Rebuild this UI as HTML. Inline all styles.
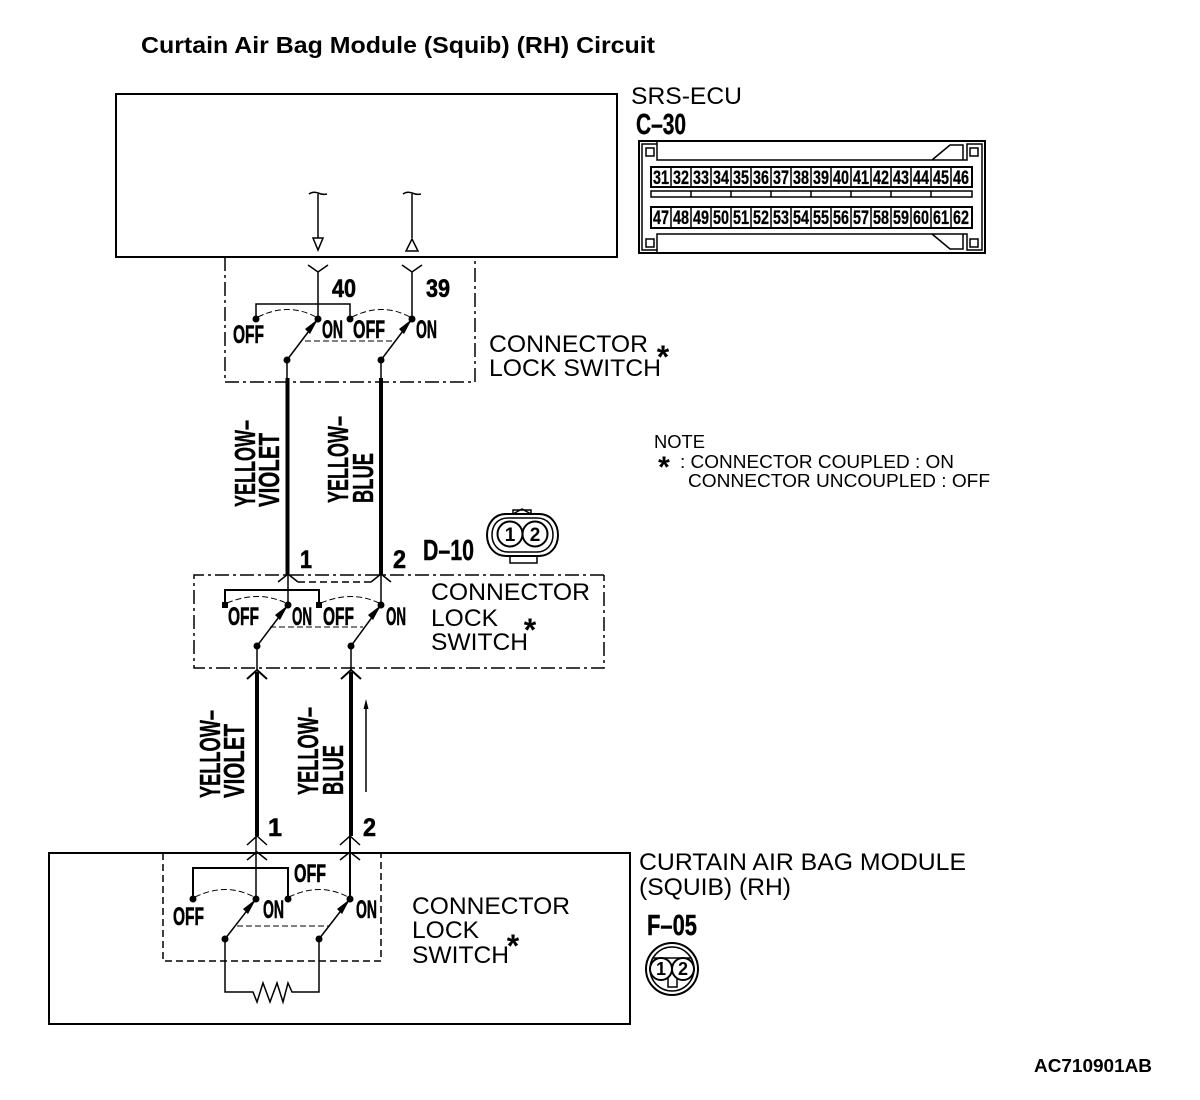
<!DOCTYPE html>
<html><head><meta charset="utf-8"><style>
html,body{margin:0;padding:0;background:#fff}
svg{display:block}
text{font-family:"Liberation Sans",sans-serif;fill:#000}
.b{font-weight:bold}
.t{stroke:#000;stroke-width:1.5;fill:none}
.m{stroke:#000;stroke-width:2;fill:none}
.h{stroke:#000;stroke-width:4;fill:none}
.d{stroke:#000;stroke-width:1;fill:none;stroke-dasharray:6 3}
.a{stroke:#000;stroke-width:1.5;fill:none;stroke-dasharray:7 4}
.dd{stroke:#000;stroke-width:1.5;fill:none;stroke-dasharray:14 4 3 4}
.c{font-weight:bold;font-size:19px;stroke:#000;stroke-width:.3}
.n{font-weight:bold;font-size:25px;stroke:#000;stroke-width:.6}
.l{font-weight:bold;font-size:29px;stroke:#000;stroke-width:.4}
</style></head><body>
<svg width="1200" height="1100" viewBox="0 0 1200 1100" xmlns="http://www.w3.org/2000/svg">
<text class="b" x="141" y="53" font-size="23" textLength="514" lengthAdjust="spacingAndGlyphs">Curtain Air Bag Module (Squib) (RH) Circuit</text>
<rect x="116" y="94" width="501" height="163" class="m"/>
<text x="631" y="104" font-size="24" textLength="111" lengthAdjust="spacingAndGlyphs">SRS-ECU</text>
<text class="l" x="636" y="134" textLength="50" lengthAdjust="spacingAndGlyphs">C–30</text>

<!-- C-30 connector -->
<rect x="639" y="141" width="346" height="112" class="m"/>
<path class="t" d="M657 142V160H967V144H982V250H967V234H657V252M657 144H642V250H657M932 160L950 145H963V160M932 234L950 249H963V234"/>
<rect x="646" y="148" width="8" height="8" class="t"/><rect x="970" y="148" width="8" height="8" class="t"/>
<rect x="646" y="239" width="8" height="8" class="t"/><rect x="970" y="239" width="8" height="8" class="t"/>
<rect x="651" y="167" width="321" height="20" class="m"/>
<rect x="651" y="191" width="321" height="6" class="t"/>
<rect x="651" y="207" width="321" height="21" class="m"/>
<path class="t" d="M671 167v20M691 167v20M711 167v20M731 167v20M751 167v20M771 167v20M791 167v20M811 167v20M831 167v20M851 167v20M871 167v20M891 167v20M911 167v20M931 167v20M951 167v20M671 207v21M691 207v21M711 207v21M731 207v21M751 207v21M771 207v21M791 207v21M811 207v21M831 207v21M851 207v21M871 207v21M891 207v21M911 207v21M931 207v21M951 207v21M691 191v6M731 191v6M771 191v6M811 191v6M851 191v6M891 191v6M931 191v6"/>
<g text-anchor="middle">
<text x="661" y="184" class="c" textLength="16" lengthAdjust="spacingAndGlyphs">31</text><text x="681" y="184" class="c" textLength="16" lengthAdjust="spacingAndGlyphs">32</text><text x="701" y="184" class="c" textLength="16" lengthAdjust="spacingAndGlyphs">33</text><text x="721" y="184" class="c" textLength="16" lengthAdjust="spacingAndGlyphs">34</text><text x="741" y="184" class="c" textLength="16" lengthAdjust="spacingAndGlyphs">35</text><text x="761" y="184" class="c" textLength="16" lengthAdjust="spacingAndGlyphs">36</text><text x="781" y="184" class="c" textLength="16" lengthAdjust="spacingAndGlyphs">37</text><text x="801" y="184" class="c" textLength="16" lengthAdjust="spacingAndGlyphs">38</text><text x="821" y="184" class="c" textLength="16" lengthAdjust="spacingAndGlyphs">39</text><text x="841" y="184" class="c" textLength="16" lengthAdjust="spacingAndGlyphs">40</text><text x="861" y="184" class="c" textLength="16" lengthAdjust="spacingAndGlyphs">41</text><text x="881" y="184" class="c" textLength="16" lengthAdjust="spacingAndGlyphs">42</text><text x="901" y="184" class="c" textLength="16" lengthAdjust="spacingAndGlyphs">43</text><text x="921" y="184" class="c" textLength="16" lengthAdjust="spacingAndGlyphs">44</text><text x="941" y="184" class="c" textLength="16" lengthAdjust="spacingAndGlyphs">45</text><text x="961" y="184" class="c" textLength="16" lengthAdjust="spacingAndGlyphs">46</text>
<text x="661" y="224" class="c" textLength="16" lengthAdjust="spacingAndGlyphs">47</text><text x="681" y="224" class="c" textLength="16" lengthAdjust="spacingAndGlyphs">48</text><text x="701" y="224" class="c" textLength="16" lengthAdjust="spacingAndGlyphs">49</text><text x="721" y="224" class="c" textLength="16" lengthAdjust="spacingAndGlyphs">50</text><text x="741" y="224" class="c" textLength="16" lengthAdjust="spacingAndGlyphs">51</text><text x="761" y="224" class="c" textLength="16" lengthAdjust="spacingAndGlyphs">52</text><text x="781" y="224" class="c" textLength="16" lengthAdjust="spacingAndGlyphs">53</text><text x="801" y="224" class="c" textLength="16" lengthAdjust="spacingAndGlyphs">54</text><text x="821" y="224" class="c" textLength="16" lengthAdjust="spacingAndGlyphs">55</text><text x="841" y="224" class="c" textLength="16" lengthAdjust="spacingAndGlyphs">56</text><text x="861" y="224" class="c" textLength="16" lengthAdjust="spacingAndGlyphs">57</text><text x="881" y="224" class="c" textLength="16" lengthAdjust="spacingAndGlyphs">58</text><text x="901" y="224" class="c" textLength="16" lengthAdjust="spacingAndGlyphs">59</text><text x="921" y="224" class="c" textLength="16" lengthAdjust="spacingAndGlyphs">60</text><text x="941" y="224" class="c" textLength="16" lengthAdjust="spacingAndGlyphs">61</text><text x="961" y="224" class="c" textLength="16" lengthAdjust="spacingAndGlyphs">62</text>
</g>

<!-- Top section -->
<path class="t" d="M309 194q4 -3 9 -1t9 1M403 194q4 -3 9 -1t9 1M318 194V238M412 194V238"/>
<path class="t" d="M313 238H323L318 250ZM412 239L418 251H406Z"/>
<path class="t" d="M308 265L318 272L328 265M402 265L412 272L422 265M318 272V319M412 272V319"/>
<path class="dd" d="M225 257V382H475V257"/>
<path class="t" d="M256 319V304H350V319"/>
<path class="d" d="M258 317Q288 302 316 317M352 317Q382 302 410 317M305 341H395"/>
<g><circle cx="256" cy="319" r="3.500"/><circle cx="318" cy="319" r="3.500"/><circle cx="350" cy="319" r="3.500"/><circle cx="412" cy="319" r="3.500"/><circle cx="287" cy="360" r="3.500"/><circle cx="381" cy="360" r="3.500"/></g>
<path class="t" d="M287 360L318 319M381 360L412 319"/>
<path d="M318 319L305 329L310 334ZM412 319L399 329L404 334Z"/>
<text class="n" x="332" y="297" font-size="27" textLength="24" lengthAdjust="spacingAndGlyphs">40</text>
<text class="n" x="426" y="297" font-size="27" textLength="24" lengthAdjust="spacingAndGlyphs">39</text>
<text class="n" x="233" y="343" textLength="31" lengthAdjust="spacingAndGlyphs">OFF</text>
<text class="n" x="322" y="338" textLength="21" lengthAdjust="spacingAndGlyphs">ON</text>
<text class="n" x="353" y="338" textLength="32" lengthAdjust="spacingAndGlyphs">OFF</text>
<text class="n" x="416" y="338" textLength="21" lengthAdjust="spacingAndGlyphs">ON</text>
<text x="489" y="352" font-size="24" textLength="159" lengthAdjust="spacingAndGlyphs">CONNECTOR</text>
<text x="489" y="376" font-size="24" textLength="172" lengthAdjust="spacingAndGlyphs">LOCK SWITCH</text>
<text class="b" x="663" y="368" font-size="32" text-anchor="middle">*</text>

<!-- Wires upper -->
<path class="t" d="M287 360V380M381 360V380"/>
<path class="h" d="M287.500 378V575M381 378V575"/>

<!-- rotated labels -->
<text class="l" transform="translate(255 507) rotate(-90)" textLength="87" lengthAdjust="spacingAndGlyphs">YELLOW–</text>
<text class="l" transform="translate(279 507) rotate(-90)" textLength="74" lengthAdjust="spacingAndGlyphs">VIOLET</text>
<text class="l" transform="translate(348 503) rotate(-90)" textLength="87" lengthAdjust="spacingAndGlyphs">YELLOW–</text>
<text class="l" transform="translate(373 503) rotate(-90)" textLength="50" lengthAdjust="spacingAndGlyphs">BLUE</text>
<text class="l" transform="translate(220 798) rotate(-90)" textLength="88" lengthAdjust="spacingAndGlyphs">YELLOW–</text>
<text class="l" transform="translate(244 798) rotate(-90)" textLength="74" lengthAdjust="spacingAndGlyphs">VIOLET</text>
<text class="l" transform="translate(318 795) rotate(-90)" textLength="88" lengthAdjust="spacingAndGlyphs">YELLOW–</text>
<text class="l" transform="translate(343 795) rotate(-90)" textLength="50" lengthAdjust="spacingAndGlyphs">BLUE</text>

<!-- NOTE -->
<text x="654" y="448" font-size="18" textLength="51" lengthAdjust="spacingAndGlyphs">NOTE</text>
<text class="b" x="664" y="477" font-size="30" text-anchor="middle">*</text>
<text x="680" y="468" font-size="18" textLength="274" lengthAdjust="spacingAndGlyphs">: CONNECTOR COUPLED : ON</text>
<text x="688" y="487" font-size="18" textLength="302" lengthAdjust="spacingAndGlyphs">CONNECTOR UNCOUPLED : OFF</text>

<!-- D-10 -->
<text class="l" x="423" y="560" textLength="51" lengthAdjust="spacingAndGlyphs">D–10</text>
<path class="m" d="M506 514H539C551 514 558 524 558 535C558 547 550 556 539 556H506C495 556 487 547 487 535C487 524 494 514 506 514Z"/>
<path class="t" d="M508 518H537C548 518 553 526 553 535C553 544 547 552 537 552H508C498 552 492 544 492 535C492 526 497 518 508 518Z"/>
<circle cx="510" cy="534" r="12.500" fill="#fff" stroke="#000" stroke-width="2"/>
<circle cx="535" cy="534" r="12.500" fill="#fff" stroke="#000" stroke-width="2"/>
<path class="t" d="M513 514V510H531V514M513 514L522 509L531 514M510 556V563H537V556"/>
<text class="b" x="510" y="541" font-size="19" text-anchor="middle">1</text>
<text class="b" x="535" y="541" font-size="19" text-anchor="middle">2</text>

<!-- Middle section -->
<text class="n" x="300" y="568" font-size="27" textLength="12" lengthAdjust="spacingAndGlyphs">1</text>
<text class="n" x="393" y="568" font-size="27" textLength="13" lengthAdjust="spacingAndGlyphs">2</text>
<path class="dd" d="M604 575H194V668H604V575"/>
<path class="t" d="M278 582L288 574L298 582M371 582L381 574L391 582"/>
<path class="a" d="M298 582H371"/>
<path class="t" d="M288 574V605M381 574V605"/>
<path class="m" d="M225 605V590H319V605"/>
<path class="d" d="M227 603Q258 590 286 603M321 603Q352 590 379 603M270 627H363"/>
<g><rect x="222" y="602" width="6" height="6"/><rect x="316" y="602" width="6" height="6"/><circle cx="288" cy="605" r="3.500"/><circle cx="381" cy="605" r="3.500"/><circle cx="257" cy="646" r="3.500"/><circle cx="351" cy="646" r="3.500"/></g>
<path class="t" d="M257 646L288 605M351 646L381 605"/>
<path d="M288 605L275 615L280 620ZM381 605L368 615L373 620Z"/>
<text class="n" x="228" y="625" textLength="31" lengthAdjust="spacingAndGlyphs">OFF</text>
<text class="n" x="292" y="625" textLength="20" lengthAdjust="spacingAndGlyphs">ON</text>
<text class="n" x="323" y="625" textLength="31" lengthAdjust="spacingAndGlyphs">OFF</text>
<text class="n" x="386" y="625" textLength="20" lengthAdjust="spacingAndGlyphs">ON</text>
<text x="431" y="600" font-size="24" textLength="159" lengthAdjust="spacingAndGlyphs">CONNECTOR</text>
<text x="431" y="626" font-size="24" textLength="67" lengthAdjust="spacingAndGlyphs">LOCK</text>
<text x="431" y="650" font-size="24" textLength="97" lengthAdjust="spacingAndGlyphs">SWITCH</text>
<text class="b" x="530" y="641" font-size="32" text-anchor="middle">*</text>

<!-- Lower wires -->
<path class="t" d="M257 646V670M351 646V670"/>
<path class="m" d="M247 679L257 670L267 679M341 679L351 670L361 679"/>
<path class="h" d="M257 672V836M351 672V836"/>
<path class="t" d="M366 792V704"/>
<path d="M366 699L363.500 709H368.500Z"/>
<text class="n" x="268" y="836" font-size="27" textLength="14" lengthAdjust="spacingAndGlyphs">1</text>
<text class="n" x="363" y="836" font-size="27" textLength="13" lengthAdjust="spacingAndGlyphs">2</text>

<!-- Bottom section -->
<rect x="49" y="853" width="581" height="171" class="m"/>
<path class="a" d="M163 853V961H381V853"/>
<path class="t" d="M247 845L257 836L267 845M247 860L257 852L267 860M340 845L350 836L360 845M340 860L350 852L360 860"/>
<path class="t" d="M256 836V899"/>
<path class="m" d="M350 836V899"/>
<path class="m" d="M193 899V868H288V899"/>
<path class="d" d="M195 897Q226 882 254 897M289 897Q320 882 348 897M237 926H330"/>
<g><circle cx="193" cy="899" r="3.500"/><circle cx="256" cy="899" r="3.500"/><circle cx="288" cy="899" r="3.500"/><circle cx="350" cy="899" r="3.500"/><circle cx="225" cy="939" r="3.500"/><circle cx="319" cy="939" r="3.500"/></g>
<path class="t" d="M225 939L256 899M319 939L350 899"/>
<path d="M256 899L243 909L248 914ZM350 899L337 909L342 914Z"/>
<path class="t" d="M225 939V992H253L257 1002L263 983L270 1002L277 983L283 1002L288 983L292 992H319V939"/>
<text class="n" x="173" y="925" textLength="31" lengthAdjust="spacingAndGlyphs">OFF</text>
<text class="n" x="263" y="918" textLength="21" lengthAdjust="spacingAndGlyphs">ON</text>
<text class="n" x="294" y="882" textLength="32" lengthAdjust="spacingAndGlyphs">OFF</text>
<text class="n" x="356" y="918" textLength="21" lengthAdjust="spacingAndGlyphs">ON</text>
<text x="412" y="914" font-size="24" textLength="158" lengthAdjust="spacingAndGlyphs">CONNECTOR</text>
<text x="412" y="938" font-size="24" textLength="67" lengthAdjust="spacingAndGlyphs">LOCK</text>
<text x="412" y="963" font-size="24" textLength="97" lengthAdjust="spacingAndGlyphs">SWITCH</text>
<text class="b" x="513" y="957" font-size="32" text-anchor="middle">*</text>
<text x="639" y="870" font-size="24" textLength="327" lengthAdjust="spacingAndGlyphs">CURTAIN AIR BAG MODULE</text>
<text x="639" y="895" font-size="24" textLength="152" lengthAdjust="spacingAndGlyphs">(SQUIB) (RH)</text>

<!-- F-05 -->
<text class="l" x="647" y="935" textLength="50" lengthAdjust="spacingAndGlyphs">F–05</text>
<circle cx="672" cy="969" r="26" class="m"/>
<circle cx="672" cy="969" r="22" class="t"/>
<path class="t" d="M652 958H692M668 978V987H677V978"/>
<circle cx="661" cy="969" r="11" fill="#fff" stroke="#000" stroke-width="2"/>
<circle cx="683" cy="969" r="11" fill="#fff" stroke="#000" stroke-width="2"/>
<text class="b" x="661" y="975" font-size="18" text-anchor="middle">1</text>
<text class="b" x="683" y="975" font-size="18" text-anchor="middle">2</text>

<text class="b" x="1034" y="1072" font-size="18" textLength="118" lengthAdjust="spacingAndGlyphs">AC710901AB</text>
</svg>
</body></html>
